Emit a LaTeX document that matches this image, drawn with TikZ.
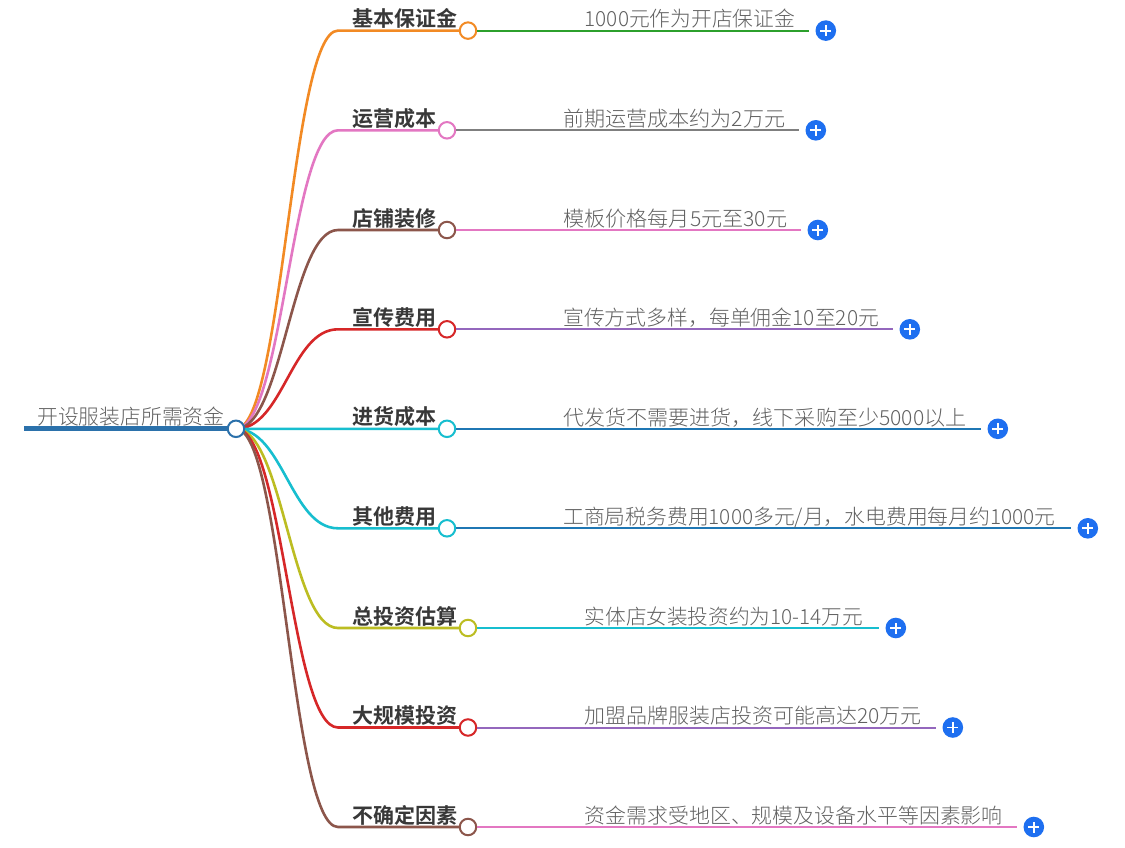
\documentclass[tikz,border=0pt]{standalone}
\usepackage{fontspec}
\setmainfont{Noto Sans CJK SC}[UprightFont=* Light,BoldFont=* Bold]
\definecolor{corg}{HTML}{F28A24}
\definecolor{cgrn}{HTML}{2CA02C}
\definecolor{cpnk}{HTML}{E377C2}
\definecolor{cgry}{HTML}{7F7F7F}
\definecolor{cbrn}{HTML}{8C564B}
\definecolor{cred}{HTML}{D62728}
\definecolor{cpur}{HTML}{9467BD}
\definecolor{ccyn}{HTML}{17BECF}
\definecolor{cblu}{HTML}{1F77B4}
\definecolor{colv}{HTML}{BCBD22}
\definecolor{cplus}{HTML}{1E6FF0}
\definecolor{croot}{HTML}{2B71AB}
\tikzset{
  x=1pt,y=-1pt,
  ring/.style={circle,draw=#1,fill=white,line width=2pt,minimum size=16.5pt,inner sep=0pt},
  headtxt/.style={anchor=base west,inner sep=0pt,font=\fontsize{21}{21}\selectfont\bfseries,text=black!78},
  bodytxt/.style={anchor=base west,inner sep=0pt,font=\fontsize{20.8}{21}\selectfont,text=black!62},
  plusdot/.style={circle,fill=cplus,minimum size=20.6pt,inner sep=0pt},
  wire/.style={line width=2pt,draw=#1},
  branch/.style={line width=2.6pt,draw=#1,line cap=round},
}
\newcommand{\mbranch}[9]{%
  % id, head colour, wire colour, head text, ring x, y, wire end x, body x, body text
  \coordinate (s#1) at (338,#6);
  \coordinate (e#1) at (#7,#6);
  \node[ring=#2] (r#1) at (#5,#6) {};
  \node[plusdot] (p#1) at (#7+16.8,#6) {};
  \draw[white,line width=1.8pt] ([xshift=-5.5pt]p#1.center) -- ([xshift=5.5pt]p#1.center);
  \draw[white,line width=1.8pt] ([yshift=-5.5pt]p#1.center) -- ([yshift=5.5pt]p#1.center);
  \draw[branch=#2] (root.center) .. controls (283,429) and (291,#6) .. (s#1) -- (r#1.west);
  \draw[wire=#3] (r#1.east) -- (e#1);
  \node[headtxt] (h#1) at (352,#6-4) {#4};
  \node[bodytxt] (b#1) at (#8,#6-3.8) {#9};
}
\newcommand{\fitw}[2]{\scalebox{#1}[1]{#2}}
\begin{document}
\begin{tikzpicture}
\useasboundingbox (0,0) rectangle (1125,847);
\fill[white] (0,0) rectangle (1125,847);
\coordinate (rs) at (24,428.8);
\coordinate (root) at (236,428.8);
\mbranch{1}{corg}{cgrn}{基本保证金}{468}{30.6}{809}{584.5}{\fitw{0.998}{1000元作为开店保证金}}
\mbranch{2}{cpnk}{cgry}{运营成本}{447}{130.3}{799}{563}{\fitw{1.014}{前期运营成本约为2万元}}
\mbranch{3}{cbrn}{cpnk}{店铺装修}{447}{230}{801}{563}{\fitw{1.016}{模板价格每月5元至30元}}
\mbranch{4}{cred}{cpur}{宣传费用}{447}{329.3}{893}{563}{\fitw{1.003}{宣传方式多样，每单佣金10至20元}}
\mbranch{5}{ccyn}{cblu}{进货成本}{447}{428.8}{981}{563}{\fitw{1.013}{代发货不需要进货，线下采购至少5000以上}}
\mbranch{6}{ccyn}{cblu}{其他费用}{447}{528.3}{1071}{563}{\fitw{1.0}{工商局税务费用1000多元/月，水电费用每月约1000元}}
\mbranch{7}{colv}{ccyn}{总投资估算}{468}{628}{879}{584.5}{\fitw{0.993}{实体店女装投资约为10-14万元}}
\mbranch{8}{cred}{cpur}{大规模投资}{468}{727.5}{936}{584.5}{\fitw{1.009}{加盟品牌服装店投资可能高达20万元}}
\mbranch{9}{cbrn}{cpnk}{不确定因素}{468}{827}{1017}{584.5}{\fitw{1.005}{资金需求受地区、规模及设备水平等因素影响}}
\draw[line width=4.8pt,draw=croot] (rs) -- (root);
\node[ring=croot] (rootc) at (root) {};
\node[bodytxt] (rt) at (37,424.8) {开设服装店所需资金};
\end{tikzpicture}
\end{document}
